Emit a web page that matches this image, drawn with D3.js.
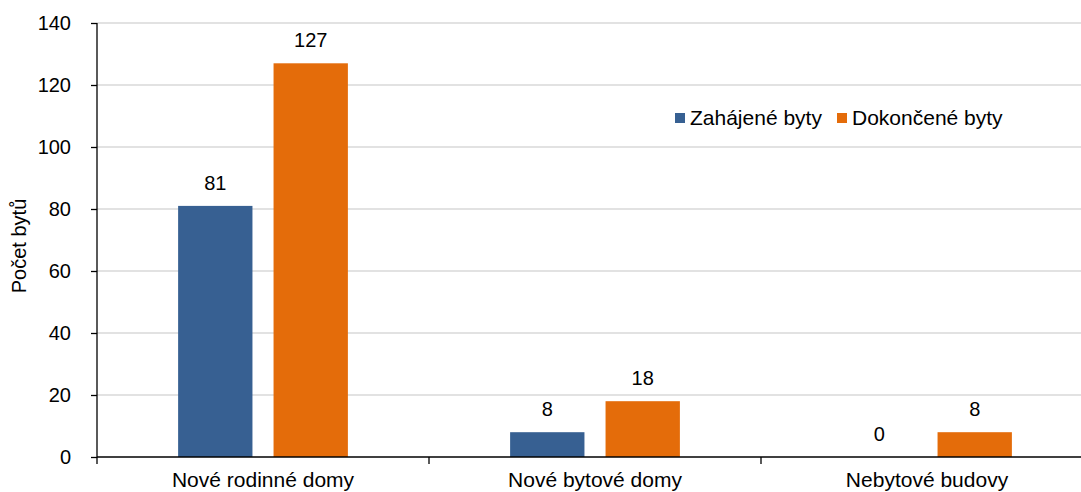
<!DOCTYPE html>
<html><head><meta charset="utf-8">
<script src="https://cdn.jsdelivr.net/npm/d3@7"></script>
<style>body{margin:0;background:#fff;}svg{display:block;font-family:"Liberation Sans",Arial,sans-serif;}</style>
</head><body>
<svg id="c" width="1081" height="492"></svg>
<script>
const categories = ["Nové rodinné domy", "Nové bytové domy", "Nebytové budovy"];
const seriesNames = ["Zahájené byty", "Dokončené byty"];
const zahajene = [81, 8, 0];
const dokoncene = [127, 18, 8];
const yTicks = [0, 20, 40, 60, 80, 100, 120, 140];
const colors = ["#376092", "#e46c0a"];

(function () {
const svg = d3.select("#c");
const mLeft = 97, mRight = 1093, mTop = 23, mBottom = 457;
const x = d3.scaleBand().domain(categories).range([mLeft, mRight]).paddingInner(0).paddingOuter(0);
const y = d3.scaleLinear().domain([0, 140]).range([mBottom, mTop]);
const xs = d3.scaleBand().domain(seriesNames).range([0, x.bandwidth()]).paddingInner(0.221).paddingOuter(0.85);

// gridlines
svg.append("g").selectAll("line").data(yTicks.slice(1)).join("line")
  .attr("x1", mLeft).attr("x2", 1081).attr("y1", d => y(d)).attr("y2", d => y(d))
  .attr("stroke", "#d9d9d9").attr("stroke-width", 1.3);

const data = categories.map((c, i) => ({cat: c, vals: [zahajene[i], dokoncene[i]]}));
const g = svg.append("g");
data.forEach(d => {
  d.vals.forEach((v, j) => {
    const bx = x(d.cat) + xs(seriesNames[j]);
    if (v > 0) {
      g.append("rect").attr("x", bx).attr("y", y(v)).attr("width", xs.bandwidth()).attr("height", y(0) - y(v)).attr("fill", colors[j]);
    }
    g.append("text").attr("x", bx + xs.bandwidth() / 2).attr("y", y(v) - 16)
      .attr("text-anchor", "middle").attr("font-size", 20).attr("fill", "#000").text(v);
  });
});

// y axis
const ya = svg.append("g").attr("transform", `translate(${mLeft},0)`)
  .call(d3.axisLeft(y).tickValues(yTicks).tickSize(6).tickPadding(20));
ya.select(".domain").attr("stroke", "#000").attr("stroke-width", 1.3).attr("d", `M0,${mTop}V${mBottom}`);
ya.selectAll(".tick line").attr("stroke", "#000").attr("stroke-width", 1.3);
ya.selectAll(".tick text").attr("font-size", 20).attr("fill", "#000").attr("font-family", "Liberation Sans, Arial, sans-serif");

// x axis
const xa = svg.append("g").attr("transform", `translate(0,${mBottom})`)
  .call(d3.axisBottom(x).tickSize(0).tickPadding(15));
xa.select(".domain").attr("stroke", "#000").attr("stroke-width", 1.3).attr("d", `M${mLeft},0H1081`);
xa.selectAll(".tick text").attr("font-size", 21).attr("fill", "#000").attr("font-family", "Liberation Sans, Arial, sans-serif");
// category separator ticks
svg.append("g").selectAll("line").data(categories.map(c => x(c))).join("line")
  .attr("x1", d => d).attr("x2", d => d).attr("y1", mBottom).attr("y2", mBottom + 7)
  .attr("stroke", "#000").attr("stroke-width", 1.3);

// y title
svg.append("text").attr("transform", `translate(26,246) rotate(-90)`)
  .attr("text-anchor", "middle").attr("font-size", 20).attr("fill", "#000").text("Počet bytů");

// legend
const legX = [675, 837];
seriesNames.forEach((s, j) => {
  svg.append("rect").attr("x", legX[j]).attr("y", 113).attr("width", 10).attr("height", 10).attr("fill", colors[j]);
  svg.append("text").attr("x", legX[j] + 15).attr("y", 125).attr("font-size", 21).attr("fill", "#000").text(s);
});
})();
</script>
</body></html>
